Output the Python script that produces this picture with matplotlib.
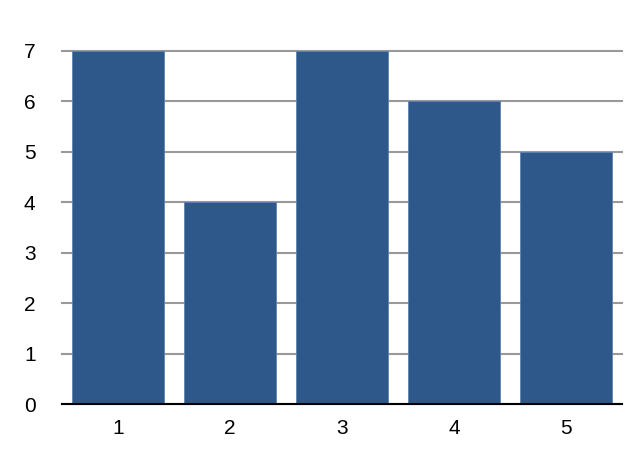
import matplotlib.pyplot as plt

categories = ['1', '2', '3', '4', '5']
values = [7, 4, 7, 6, 5]
y_ticks = [0, 1, 2, 3, 4, 5, 6, 7]

plt.rcParams['font.family'] = ['Liberation Sans', 'DejaVu Sans']

fig = plt.figure(figsize=(6.27, 4.67), dpi=100)
ax = fig.add_axes([62 / 627, 63 / 467, 560 / 627, 353 / 467])

x = range(len(categories))
ax.bar(x, values, width=0.83, color='#2E5889', edgecolor='#5F82B5', linewidth=0.6, zorder=3)

ax.set_xlim(-0.5, len(categories) - 0.5)
ax.set_ylim(0, 7)
ax.set_yticks(y_ticks)
ax.set_xticks(list(x))
ax.set_xticklabels(categories)

ax.grid(axis='y', color='#999999', linewidth=1.5, zorder=0)
ax.set_axisbelow(True)
for gl in ax.get_ygridlines():
    gl.set_clip_on(False)
for s in ['top', 'right', 'left']:
    ax.spines[s].set_visible(False)
ax.spines['bottom'].set_color('black')
ax.spines['bottom'].set_linewidth(1.5)
ax.spines['bottom'].set_zorder(4)

ax.tick_params(axis='y', length=0, pad=19, labelsize=15)
ax.tick_params(axis='x', length=0, pad=11, labelsize=15)
for lab in ax.get_yticklabels():
    lab.set_horizontalalignment('right')

fig.savefig('out.png', dpi=100)
